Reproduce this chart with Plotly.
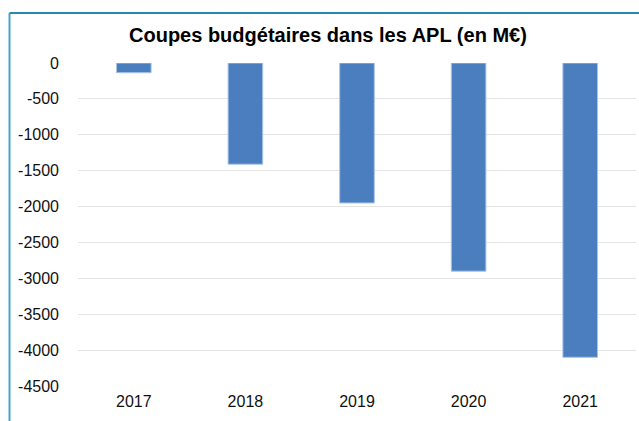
import plotly.graph_objects as go

years = ["2017", "2018", "2019", "2020", "2021"]
cuts = [-135, -1410, -1950, -2900, -4100]
y_ticks = [0, -500, -1000, -1500, -2000, -2500, -3000, -3500, -4000, -4500]
title_text = "Coupes budgétaires dans les APL (en M€)"

W, H = 639, 421
L, R, T, B = 78, 3, 63, 35
pw, ph = W - L - R, H - T - B

def px_x(x):
    return (x - L) / pw

def px_y(y):
    return (H - B - y) / ph

fig = go.Figure()
fig.add_trace(go.Bar(
    x=years, y=cuts,
    marker=dict(color="#4a7ebf", line=dict(color="#a8c3e6", width=1)),
    width=0.31,
))

fig.update_layout(
    width=W, height=H,
    margin=dict(l=L, r=R, t=T, b=B),
    paper_bgcolor="white", plot_bgcolor="white",
    showlegend=False,
    font=dict(family="Liberation Sans, Arial, sans-serif", size=16, color="#111111"),
    xaxis=dict(showgrid=False, showline=False, zeroline=False, ticks="",
               ticklabelstandoff=4, tickfont=dict(size=16)),
    yaxis=dict(range=[-4500, 0], tickvals=y_ticks, ticktext=[str(v) for v in y_ticks],
               showgrid=True, gridcolor="#e4e4e4", gridwidth=1,
               zeroline=False, showline=False, ticks="", ticklabelstandoff=18,
               tickfont=dict(size=16)),
)

fig.add_annotation(
    text="<b>" + title_text + "</b>",
    xref="paper", yref="paper", x=px_x(328), y=px_y(35),
    xanchor="center", yanchor="middle", showarrow=False,
    font=dict(family="Liberation Sans Narrow, Arial Narrow, Liberation Sans, sans-serif",
              size=20, color="black"),
)

frame_color = "#4aa3c8"
fig.add_shape(type="line", xref="paper", yref="paper",
              x0=px_x(9.5), y0=px_y(421), x1=px_x(9.5), y1=px_y(13),
              line=dict(color=frame_color, width=2))
fig.add_shape(type="line", xref="paper", yref="paper",
              x0=px_x(9.5), y0=px_y(13), x1=px_x(639), y1=px_y(13),
              line=dict(color="#2a88b0", width=2))

fig.write_html("out.html")
